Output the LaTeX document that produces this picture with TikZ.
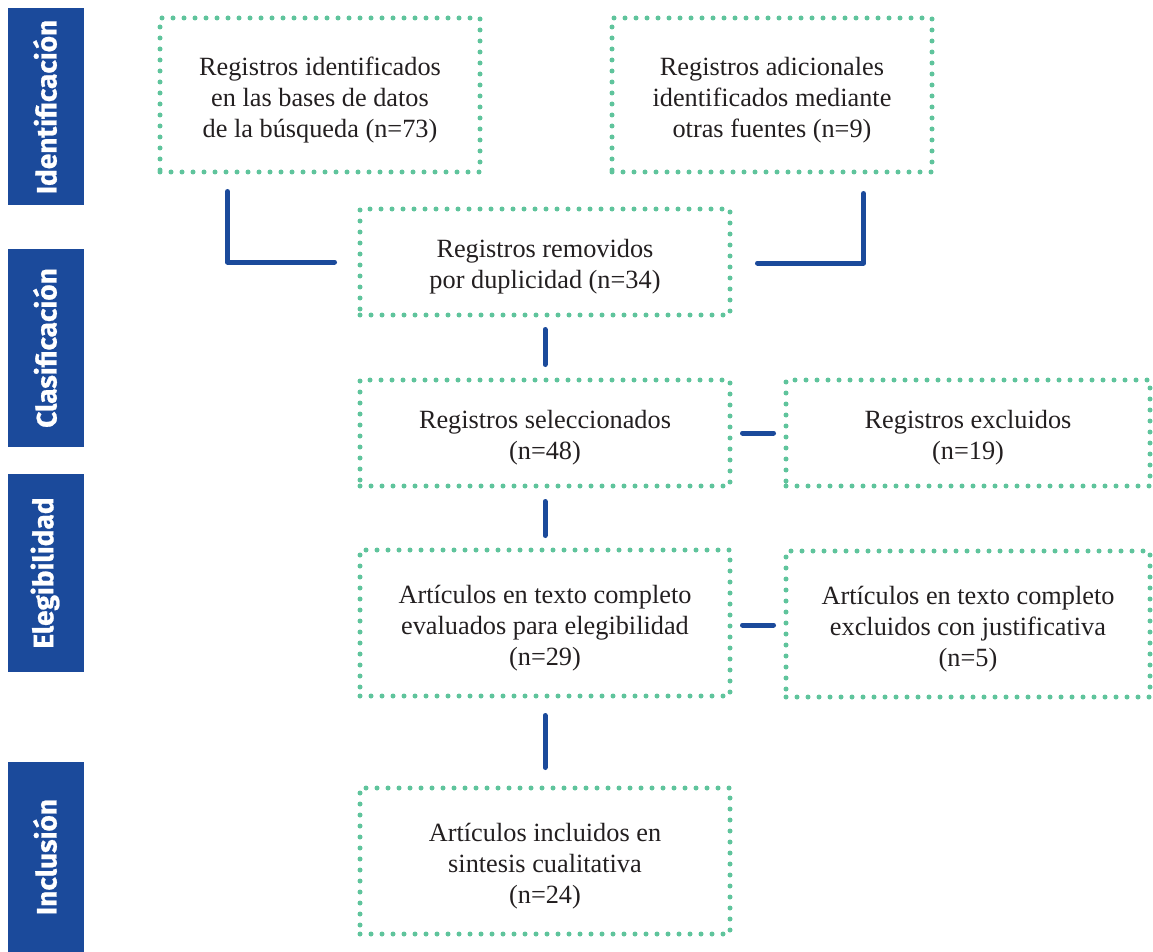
\documentclass[tikz,border=0pt]{standalone}
\usepackage{fontspec}
\setmainfont{Liberation Serif}
\newfontfamily\barfont{Fira Sans}[BoldFeatures={FakeBold=0.8}]
\usetikzlibrary{calc}
\definecolor{dotgreen}{RGB}{95,196,156}
\definecolor{barblue}{RGB}{27,74,155}
\definecolor{txt}{RGB}{35,31,32}
\tikzset{
  dotbox/.style={draw=dotgreen, line width=5pt, dash pattern=on 0pt off 11pt, line cap=round,
    rectangle, inner sep=0pt},
  boxtext/.style={align=center, inner sep=0pt, font=\fontsize{26.3}{31}\selectfont, text=txt},
  sidebar/.style={fill=barblue, rectangle, inner sep=0pt, minimum width=76pt},
  barlabel/.style={rotate=90, text=white, font=\barfont\bfseries\fontsize{28}{30}\selectfont, inner sep=0pt},
  conn/.style={draw=barblue, line width=5pt, line cap=round, line join=round}
}
\begin{document}
\begin{tikzpicture}[x=1pt,y=-1pt]
\useasboundingbox (0,0) rectangle (1153,952);
% side bars
\node[sidebar, minimum height=197pt] (s1) at (46,106.5) {};
\node[sidebar, minimum height=198pt] (s2) at (46,348) {};
\node[sidebar, minimum height=198pt] (s3) at (46,573) {};
\node[sidebar, minimum height=190pt] (s4) at (46,857) {};
\node[barlabel] (l1) at (45,107) {Identificación};
\node[barlabel] (l2) at (45,348) {Clasificación};
\node[barlabel] (l3) at (45,573) {Elegibilidad};
\node[barlabel] (l4) at (45,857) {Inclusión};
% boxes
\node[dotbox, minimum width=320pt, minimum height=154pt] (b1) at (320,95) {};
\node[dotbox, minimum width=320pt, minimum height=154pt] (b2) at (772,95) {};
\node[dotbox, minimum width=370pt, minimum height=106pt] (b3) at (545,262) {};
\node[dotbox, minimum width=370pt, minimum height=106pt] (b4) at (545,433) {};
\node[dotbox, minimum width=364pt, minimum height=106pt] (b5) at (968,433) {};
\node[dotbox, minimum width=370pt, minimum height=146pt] (b6) at (545,623) {};
\node[dotbox, minimum width=364pt, minimum height=146pt] (b7) at (968,624) {};
\node[dotbox, minimum width=370pt, minimum height=146pt] (b8) at (545,861) {};
% texts
\node[boxtext] (t1) at ($(b1.center)+(0,5)$) {Registros identificados\\en las bases de datos\\de la búsqueda (n=73)};
\node[boxtext] (t2) at ($(b2.center)+(0,5)$) {Registros adicionales\\identificados mediante\\otras fuentes (n=9)};
\node[boxtext] (t3) at ($(b3.center)+(0,5)$) {Registros removidos\\por duplicidad (n=34)};
\node[boxtext] (t4) at ($(b4.center)+(0,5)$) {Registros seleccionados\\(n=48)};
\node[boxtext] (t5) at ($(b5.center)+(0,5)$) {Registros excluidos\\(n=19)};
\node[boxtext] (t6) at ($(b6.center)+(0,5)$) {Artículos en texto completo\\evaluados para elegibilidad\\(n=29)};
\node[boxtext] (t7) at ($(b7.center)+(0,5)$) {Artículos en texto completo\\excluidos con justificativa\\(n=5)};
\node[boxtext] (t8) at ($(b8.center)+(0,5)$) {Artículos incluidos en\\sintesis cualitativa\\(n=24)};
% connectors
\coordinate (c1) at ($(b1.south west)+(70,17)$);
\coordinate (c1e) at ($(b3.west)+(-23,0)$);
\draw[conn] (c1) |- (c1e);
\coordinate (c2) at ($(b2.south east)+(-71,19)$);
\coordinate (c2e) at ($(b3.east)+(25,1)$);
\draw[conn] (c2) |- (c2e);
\draw[conn, shorten <=12pt, shorten >=13pt] (b3.south) -- (b4.north);
\draw[conn, shorten <=13pt, shorten >=12pt] (b4.south) -- (b6.north);
\draw[conn, shorten <=17pt, shorten >=18pt] (b6.south) -- (b8.north);
\draw[conn, shorten <=10pt, shorten >=10pt] (b4.east) -- (b5.west);
\draw[conn, shorten <=10pt, shorten >=10pt] ($(b6.east)+(0,2)$) -- ($(b7.west)+(0,1)$);
\end{tikzpicture}
\end{document}
